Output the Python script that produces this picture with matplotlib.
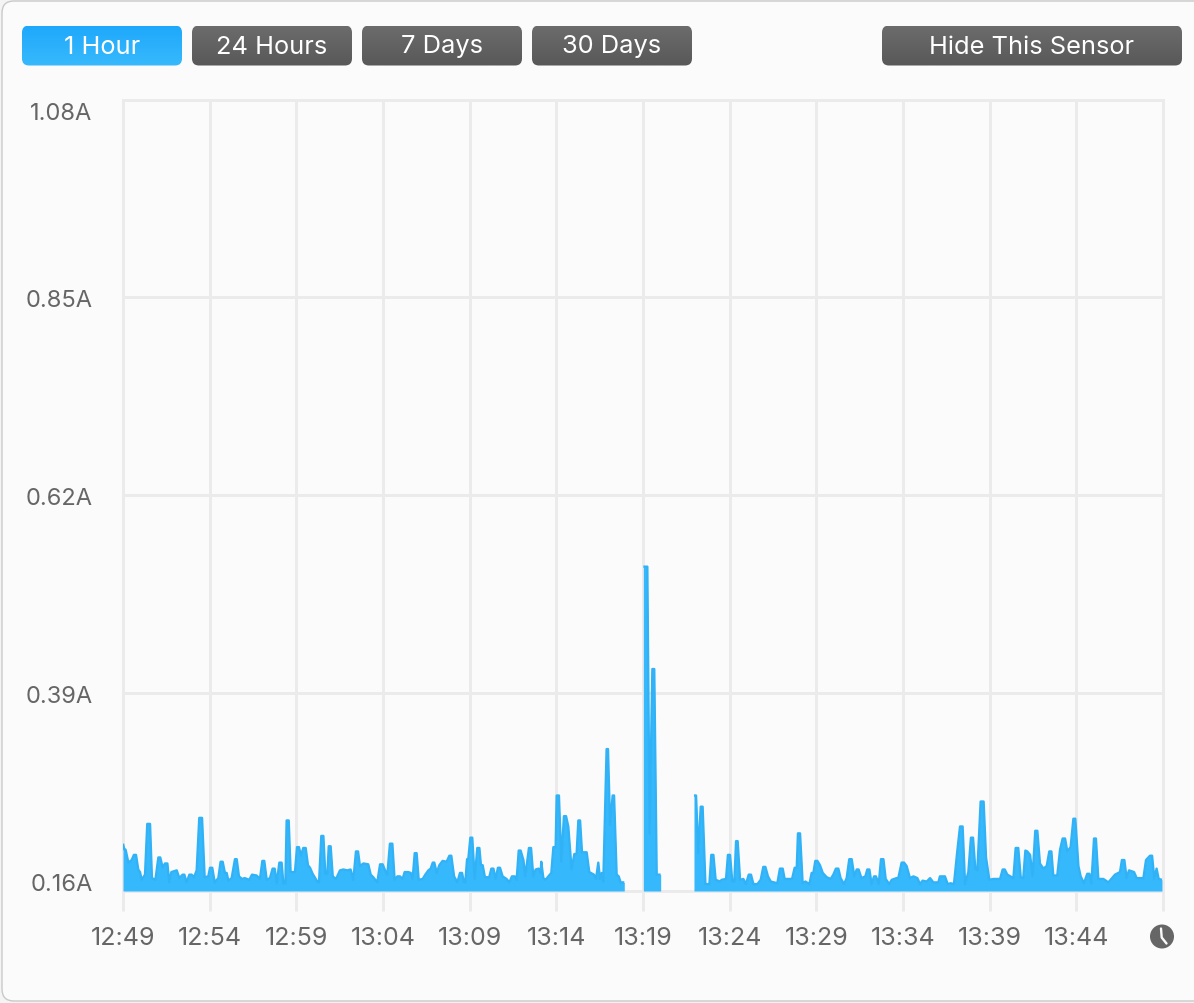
import matplotlib
matplotlib.use("Agg")
import matplotlib.pyplot as plt
import numpy as np
from matplotlib.patches import FancyBboxPatch, Circle
from matplotlib.transforms import ScaledTranslation

# minutes after 12:49 and current in amps, three runs with logging gaps between
run1_min = [0.00,0.08,0.15,0.31,0.50,0.63,0.75,0.88,0.98,1.08,1.27,1.40,1.56,1.67,1.87,2.04,2.15,2.29,2.42,2.56,
            2.67,2.79,3.10,3.25,3.44,3.54,3.67,3.83,3.96,4.10,4.25,4.40,4.56,4.71,4.92,5.02,5.15,5.29,5.50,5.63,
            5.75,5.88,5.98,6.08,6.27,6.46,6.56,6.69,6.87,7.02,7.29,7.44,7.71,7.90,8.04,8.15,8.29,8.48,8.63,8.75,
            8.87,9.02,9.15,9.25,9.37,9.44,9.56,9.67,9.92,10.04,10.15,10.27,10.40,10.54,10.67,10.79,10.94,11.21,11.31,11.44,
            11.56,11.67,11.79,11.87,11.98,12.10,12.29,12.52,12.71,12.94,13.13,13.29,13.44,13.56,13.67,13.87,14.15,14.29,14.44,14.67,
            14.83,14.98,15.12,15.25,15.40,15.54,15.67,15.83,15.98,16.13,16.25,16.46,16.60,16.71,16.83,16.94,17.06,17.29,17.44,17.62,
            17.75,17.87,17.96,18.10,18.25,18.44,18.67,18.83,18.94,19.10,19.29,19.44,19.56,19.67,19.75,19.85,19.92,20.04,20.15,20.29,
            20.44,20.56,20.65,20.75,20.88,21.13,21.25,21.37,21.50,21.63,21.75,21.90,22.13,22.29,22.44,22.60,22.71,22.83,22.94,23.10,
            23.21,23.42,23.54,23.67,23.81,23.98,24.10,24.13,24.25,24.38,24.54,24.71,24.83,24.96,25.02,25.15,25.29,25.44,25.56,25.69,
            25.88,26.04,26.17,26.27,26.37,26.48,26.75,26.90,27.17,27.29,27.42,27.52,27.62,27.71,27.90,27.98,28.10,28.25,28.33,28.48,
            28.60,28.71,28.92]
run1_amp = [.215,.208,.208,.193,.196,.202,.202,.185,.182,.173,.179,.238,.238,.175,.173,.199,.199,.187,.192,.192,
            .170,.182,.184,.175,.179,.179,.170,.179,.179,.176,.184,.245,.245,.176,.177,.187,.187,.170,.175,.194,
            .194,.181,.181,.172,.175,.197,.197,.177,.174,.175,.173,.179,.178,.174,.195,.195,.173,.175,.186,.186,
            .169,.193,.193,.169,.169,.242,.242,.182,.182,.211,.211,.201,.210,.210,.190,.187,.180,.171,.170,.224,
            .224,.180,.180,.212,.212,.177,.174,.184,.185,.184,.185,.173,.206,.206,.189,.192,.191,.179,.176,.170,
            .191,.191,.184,.179,.215,.215,.173,.177,.177,.174,.182,.182,.181,.174,.204,.204,.173,.174,.179,.184,
            .186,.193,.193,.181,.190,.195,.194,.201,.201,.177,.170,.181,.181,.170,.170,.197,.197,.222,.222,.174,
            .210,.210,.190,.190,.176,.176,.186,.186,.174,.187,.187,.177,.174,.170,.177,.177,.173,.207,.207,.196,
            .177,.210,.210,.177,.185,.186,.181,.194,.175,.173,.177,.181,.211,.211,.271,.271,.194,.247,.247,.235,
            .185,.203,.203,.242,.242,.205,.205,.182,.179,.174,.193,.174,.181,.171,.325,.325,.237,.271,.271,.179,
            .177,.170,.170]

run2_min = [30.02,30.25,30.38,30.54,30.65,30.79,31.02]
run2_amp = [.537,.537,.227,.418,.418,.179,.179]

run3_min = [32.94,33.06,33.19,33.33,33.44,33.60,33.83,33.94,34.06,34.19,34.44,34.54,34.79,34.90,35.02,35.15,35.27,35.37,35.46,35.60,
            35.79,35.94,36.10,36.23,36.37,36.60,36.79,36.94,37.06,37.21,37.37,37.75,37.90,38.06,38.17,38.60,38.75,38.87,38.94,39.06,
            39.21,39.37,39.60,39.73,39.83,39.94,40.06,40.21,40.37,40.60,40.83,40.98,41.13,41.27,41.40,41.60,41.75,41.90,42.04,42.19,
            42.33,42.44,42.60,42.83,42.94,43.06,43.19,43.33,43.44,43.60,43.73,43.87,44.00,44.21,44.35,44.63,44.73,44.92,45.06,45.21,
            45.40,45.60,45.83,45.98,46.13,46.37,46.56,46.75,47.04,47.13,47.42,47.58,47.75,47.94,48.13,48.29,48.44,48.58,48.77,48.92,
            49.04,49.17,49.29,49.48,49.65,49.79,49.98,50.21,50.60,50.75,50.87,51.02,51.37,51.50,51.65,51.79,51.94,52.06,52.17,52.33,
            52.48,52.63,52.75,52.90,53.10,53.29,53.44,53.56,53.67,53.90,54.06,54.21,54.35,54.48,54.67,54.83,54.94,55.12,55.25,55.44,
            55.63,55.75,55.87,56.02,56.13,56.27,56.56,56.85,57.23,57.52,57.63,57.77,57.90,58.04,58.33,58.48,58.87,59.02,59.25,59.37,
            59.50,59.63,59.75,59.94]
run3_amp = [.271,.271,.204,.258,.258,.168,.168,.202,.202,.173,.171,.173,.174,.202,.202,.171,.171,.218,.218,.173,
            .174,.168,.179,.179,.168,.168,.173,.188,.188,.177,.171,.169,.186,.186,.174,.174,.187,.187,.227,.227,
            .169,.171,.168,.181,.181,.195,.195,.190,.181,.176,.174,.179,.186,.186,.175,.168,.175,.197,.197,.177,
            .185,.185,.175,.177,.185,.185,.168,.177,.177,.168,.197,.197,.174,.168,.173,.175,.175,.193,.193,.189,
            .175,.177,.175,.168,.172,.171,.175,.170,.170,.177,.177,.168,.169,.168,.206,.235,.235,.168,.182,.222,
            .222,.186,.184,.264,.264,.199,.173,.174,.174,.185,.185,.179,.175,.210,.210,.176,.175,.207,.206,.202,
            .177,.230,.230,.192,.186,.189,.206,.206,.178,.178,.208,.221,.221,.206,.211,.244,.244,.189,.177,.169,
            .180,.180,.169,.221,.221,.174,.174,.170,.179,.182,.196,.196,.175,.184,.182,.175,.175,.196,.201,.201,
            .174,.186,.174,.173]

y_ticks = [0.16, 0.39, 0.62, 0.85, 1.08]
y_labels = ["0.16A", "0.39A", "0.62A", "0.85A", "1.08A"]
x_ticks = list(range(0, 65, 5))
x_labels = ["12:49", "12:54", "12:59", "13:04", "13:09", "13:14", "13:19",
            "13:24", "13:29", "13:34", "13:39", "13:44", ""]
buttons = ["1 Hour", "24 Hours", "7 Days", "30 Days", "Hide This Sensor"]
button_left = [22, 192, 362, 532, 882]
button_width = [160, 160, 160, 160, 300]

W, H = 1194, 1004
plt.rcParams["font.family"] = ["Inter", "DejaVu Sans"]
GRID = "#EBEBEB"
FILL = "#36B9FC"
LINE = "#31B2F7"
TXT = "#666666"

fig = plt.figure(figsize=(W / 100, H / 100), dpi=100, facecolor="#F4F4F4")

# window + buttons, drawn in pixel coordinates
ui = fig.add_axes([0, 0, 1, 1], zorder=0)
ui.set_xlim(0, W)
ui.set_ylim(H, 0)
ui.axis("off")
ui.add_patch(FancyBboxPatch((2, 2), W + 20, H - 4, boxstyle="round,pad=0,rounding_size=12",
                            fc="#FBFBFB", ec="#C9C9C9", lw=1))

for i, name in enumerate(buttons):
    left, w = button_left[i], button_width[i]
    top, bot = (("#1FA8FB", "#37B9FC") if i == 0 else ("#6C6C6C", "#585858"))
    c0 = np.array(matplotlib.colors.to_rgb(top))
    c1 = np.array(matplotlib.colors.to_rgb(bot))
    grad = np.linspace(0, 1, 40)[:, None, None] * (c1 - c0) + c0
    box = FancyBboxPatch((left, 26.5), w, 40, boxstyle="round,pad=0,rounding_size=7", fc="none", ec="none")
    ui.add_patch(box)
    img = ui.imshow(grad, extent=(left, left + w, 66.5, 26.5), aspect="auto", zorder=2)
    img.set_clip_path(box)
    ui.text(left + w / 2, 47, name, color="white", fontsize=18.3, ha="center", va="center", zorder=3)
ui.set_xlim(0, W)
ui.set_ylim(H, 0)

# clock icon
ui.add_patch(Circle((1162, 937.5), 12, fc="#666666", ec="none"))
ui.plot([1161, 1161.7, 1166.5], [929.5, 938.5, 944.5], color="#FBFBFB", lw=1.7, solid_capstyle="round")

ax = fig.add_axes([123 / W, 1 - 892 / H, 1040 / W, 791.5 / H], zorder=1)
ax.patch.set_alpha(0)
for xs, ys in [(run1_min, run1_amp), (run2_min, run2_amp), (run3_min, run3_amp)]:
    ax.fill_between(xs, ys, 0.16, color=FILL, lw=0, zorder=3)
    ax.plot(xs, ys, color=LINE, lw=1.7, zorder=4, solid_joinstyle="round", solid_capstyle="butt")

ax.set_xlim(0, 60)
ax.set_ylim(0.16, 1.08)
ax.set_xticks(x_ticks, x_labels)
ax.set_yticks(y_ticks, y_labels)
ax.grid(True, color=GRID, lw=2.1)
ax.set_axisbelow(True)
for s in ax.spines.values():
    s.set_color(GRID)
    s.set_linewidth(2.1)
ax.tick_params(axis="x", length=14.5, width=2.1, color=GRID, labelcolor=TXT, labelsize=18, pad=11)
ax.tick_params(axis="y", length=0, labelcolor=TXT, labelsize=17, pad=22)

# end labels sit just inside the plot height, nudged to match the screenshot
labels = ax.get_yticklabels()
labels[0].set_verticalalignment("bottom")
labels[-1].set_verticalalignment("top")
labels[0].set_transform(labels[0].get_transform() + ScaledTranslation(0, -3 / 72, fig.dpi_scale_trans))
labels[-1].set_transform(labels[-1].get_transform() + ScaledTranslation(0, -2 / 72, fig.dpi_scale_trans))

fig.savefig("out.png", dpi=100, facecolor=fig.get_facecolor())
